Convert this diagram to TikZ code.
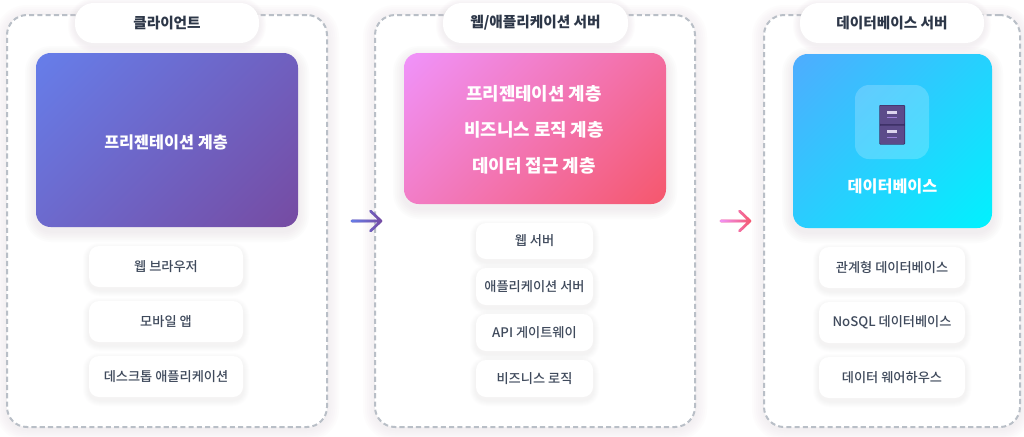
\documentclass[tikz,border=0pt]{standalone}
\usepackage{fontspec}
\usetikzlibrary{fadings}
\newfontfamily\kr{Noto Sans CJK KR}
\newfontfamily\krm{Noto Sans CJK KR Medium}
\newcommand{\fs}[1]{\fontsize{#1}{#1}\selectfont}
\definecolor{dashc}{HTML}{B9BFC7}
\definecolor{softc}{HTML}{D9CFD6}
\definecolor{titlec}{HTML}{2D3748}
\definecolor{itemc}{HTML}{3F4A5C}
\definecolor{aA}{HTML}{667EEA}\definecolor{aB}{HTML}{764BA2}
\definecolor{bA}{HTML}{F093FB}\definecolor{bB}{HTML}{F5576C}
\definecolor{cA}{HTML}{4FACFE}\definecolor{cB}{HTML}{00F2FE}
\tikzset{
  panelbox/.style={draw=dashc,fill=white,line width=1.5pt,dash pattern=on 3.8pt off 2.4pt,rounded corners=15pt},
  pillbox/.style={fill=white,rounded corners=14pt,inner sep=0pt,text=titlec,font=\kr\bfseries\fs{11pt}},
  itembox/.style={fill=white,rounded corners=7.5pt,inner sep=0pt,text=itemc,font=\krm\fs{9.9pt},
    execute at begin node={\leavevmode\lower1.1pt\hbox\bgroup},execute at end node={\egroup}},
  cardlabel/.style={inner sep=0pt,text=white,font=\kr\bfseries\fs{12.2pt}},
  flow/.style={line width=2pt,line cap=round,line join=round},
}
% soft shadow: x1 y1 x2 y2 radius spread dy opacity
\newcommand{\softbox}[8]{%
  \foreach \s in {1,...,6}{%
    \pgfmathsetmacro\e{\s*#6/6}%
    \pgfmathsetmacro\rr{(#5+\e)*0.75}%
    \fill[softc,opacity=#8,rounded corners=\rr pt] ({#1-\e},{#2-\e+#7}) rectangle ({#3+\e},{#4+\e+#7});
  }}
% gradient card: x1 y1 x2 y2 colourA colourB
\newcommand{\gradcard}[6]{%
  \begin{scope}
    \clip[rounded corners=11pt] (#1,#2) rectangle (#3,#4);
    \pgfmathsetmacro\cx{(#1+#3)/2}\pgfmathsetmacro\cy{(#2+#4)/2}%
    \pgfmathsetmacro\Lh{((#3-#1)+(#4-#2))*0.7071/2}%
    \begin{scope}[transform canvas={shift={(\cx,\cy)},rotate=-45}]
      \shade[left color=#5,right color=#6] ({-\Lh},-400) rectangle ({\Lh},400);
    \end{scope}
  \end{scope}}
\begin{document}
\begin{tikzpicture}[x=0.75pt,y=-0.75pt]
\useasboundingbox (0,0) rectangle (1024,436);
\fill[white] (0,0) rectangle (1024,436);
% panels
\softbox{7}{15}{327}{427}{20}{12}{2}{0.05}
\softbox{375}{15}{695}{427}{20}{12}{2}{0.05}
\softbox{764}{15}{1020}{427}{20}{12}{2}{0.05}
\node[panelbox,minimum width=240pt,minimum height=309pt] (p1) at (167,221) {};
\node[panelbox,minimum width=240pt,minimum height=309pt] (p2) at (535,221) {};
\node[panelbox,minimum width=192pt,minimum height=309pt] (p3) at (892,221) {};
% pills
\softbox{75}{3}{259}{43}{19}{7}{2}{0.05}
\softbox{443}{3}{628}{43}{19}{7}{2}{0.05}
\softbox{800}{3}{984}{43}{19}{7}{2}{0.05}
\node[pillbox,minimum width=138pt,minimum height=30pt] (t1) at (167,23) {\raisebox{-0.6pt}{클라이언트}};
\node[pillbox,minimum width=138.75pt,minimum height=30pt] (t2) at (535.5,23) {\raisebox{-0.6pt}{웹/애플리케이션 서버}};
\node[pillbox,minimum width=138pt,minimum height=30pt] (t3) at (892,23) {\raisebox{-0.6pt}{데이터베이스 서버}};
% cards
\softbox{36}{53}{298}{227}{15}{11}{4}{0.06}
\softbox{404}{53}{666}{204}{15}{11}{4}{0.06}
\softbox{793}{54}{992}{228}{15}{11}{4}{0.06}
\gradcard{36}{53}{298}{227}{aA}{aB}
\gradcard{404}{53}{666}{204}{bA}{bB}
\gradcard{793}{54}{992}{228}{cA}{cB}
\node[cardlabel] (c1) at (166,142) {프리젠테이션 계층};
\node[cardlabel,font=\kr\bfseries\fs{13.4pt}] (c2a) at (534,94) {프리젠테이션 계층};
\node[cardlabel,font=\kr\bfseries\fs{13.4pt}] (c2b) at (534,130) {비즈니스 로직 계층};
\node[cardlabel] (c2c) at (534,166) {\fs{13.4pt}데이터 접근 계층};
\node[cardlabel] (c3) at (892.5,186.5) {데이터베이스};
% icon
\fill[white,opacity=0.2,rounded corners=10.5pt] (855,85) rectangle (929,159);
\fill[rounded corners=0.6pt,fill={rgb,255:red,58;green,46;blue,100}] (879.3,105) rectangle (905,144.5);
\fill[rounded corners=0.5pt,fill={rgb,255:red,92;green,75;blue,138}] (880,105.7) rectangle (904.3,124);
\fill[rounded corners=0.5pt,fill={rgb,255:red,92;green,75;blue,138}] (880,125.6) rectangle (904.3,143.8);
\fill[fill={rgb,255:red,220;green,212;blue,238}] (887.3,110.7) rectangle (897,114);
\fill[fill={rgb,255:red,155;green,125;blue,215}] (887.3,117.2) rectangle (897,118.4);
\fill[fill={rgb,255:red,220;green,212;blue,238}] (887.3,130) rectangle (897,133.3);
\fill[fill={rgb,255:red,155;green,125;blue,215}] (887.3,136.5) rectangle (897,137.7);
% items
\foreach \a/\b/\c/\d in {89/246/243/287,89/301/243/342,89/356/243/397,
  476/223/593/259,476/268/593/305,476/314/593/351,476/360/593/397,
  819/247/965/288,819/302/965/343,819/357/965/398}{
  \softbox{\a}{\b}{\c}{\d}{10}{6}{3}{0.035}
}
\node[itembox,minimum width=115.5pt,minimum height=30.75pt] (i1) at (166,266.5) {웹 브라우저};
\node[itembox,minimum width=115.5pt,minimum height=30.75pt] (i2) at (166,321.5) {모바일 앱};
\node[itembox,minimum width=115.5pt,minimum height=30.75pt] (i3) at (166,376.5) {데스크톱 애플리케이션};
\node[itembox,minimum width=87.75pt,minimum height=27pt] (j1) at (534.5,241) {웹 서버};
\node[itembox,minimum width=87.75pt,minimum height=27.75pt] (j2) at (534.5,286.5) {애플리케이션 서버};
\node[itembox,minimum width=87.75pt,minimum height=27.75pt] (j3) at (534.5,332.5) {API 게이트웨이};
\node[itembox,minimum width=87.75pt,minimum height=27.75pt] (j4) at (534.5,378.5) {비즈니스 로직};
\node[itembox,minimum width=109.5pt,minimum height=30.75pt] (k1) at (892,267.5) {관계형 데이터베이스};
\node[itembox,minimum width=109.5pt,minimum height=30.75pt] (k2) at (892,322.5) {NoSQL 데이터베이스};
\node[itembox,minimum width=109.5pt,minimum height=30.75pt] (k3) at (892,377.5) {데이터 웨어하우스};
% arrows
\coordinate (a1s) at (352,221);\coordinate (a1e) at (381,221);
\coordinate (a1t) at (370.5,211);\coordinate (a1b) at (370.5,231);
\coordinate (a2s) at (721,221);\coordinate (a2e) at (750,221);
\coordinate (a2t) at (739.5,211);\coordinate (a2b) at (739.5,231);
\draw[flow,aB] (a1s) -- (a1e) (a1t) -- (a1e) -- (a1b);
\draw[flow,aA,path fading=east] (a1s) -- (a1e) (a1t) -- (a1e) -- (a1b);
\draw[flow,bB] (a2s) -- (a2e) (a2t) -- (a2e) -- (a2b);
\draw[flow,bA,path fading=east] (a2s) -- (a2e) (a2t) -- (a2e) -- (a2b);
\end{tikzpicture}
\end{document}
